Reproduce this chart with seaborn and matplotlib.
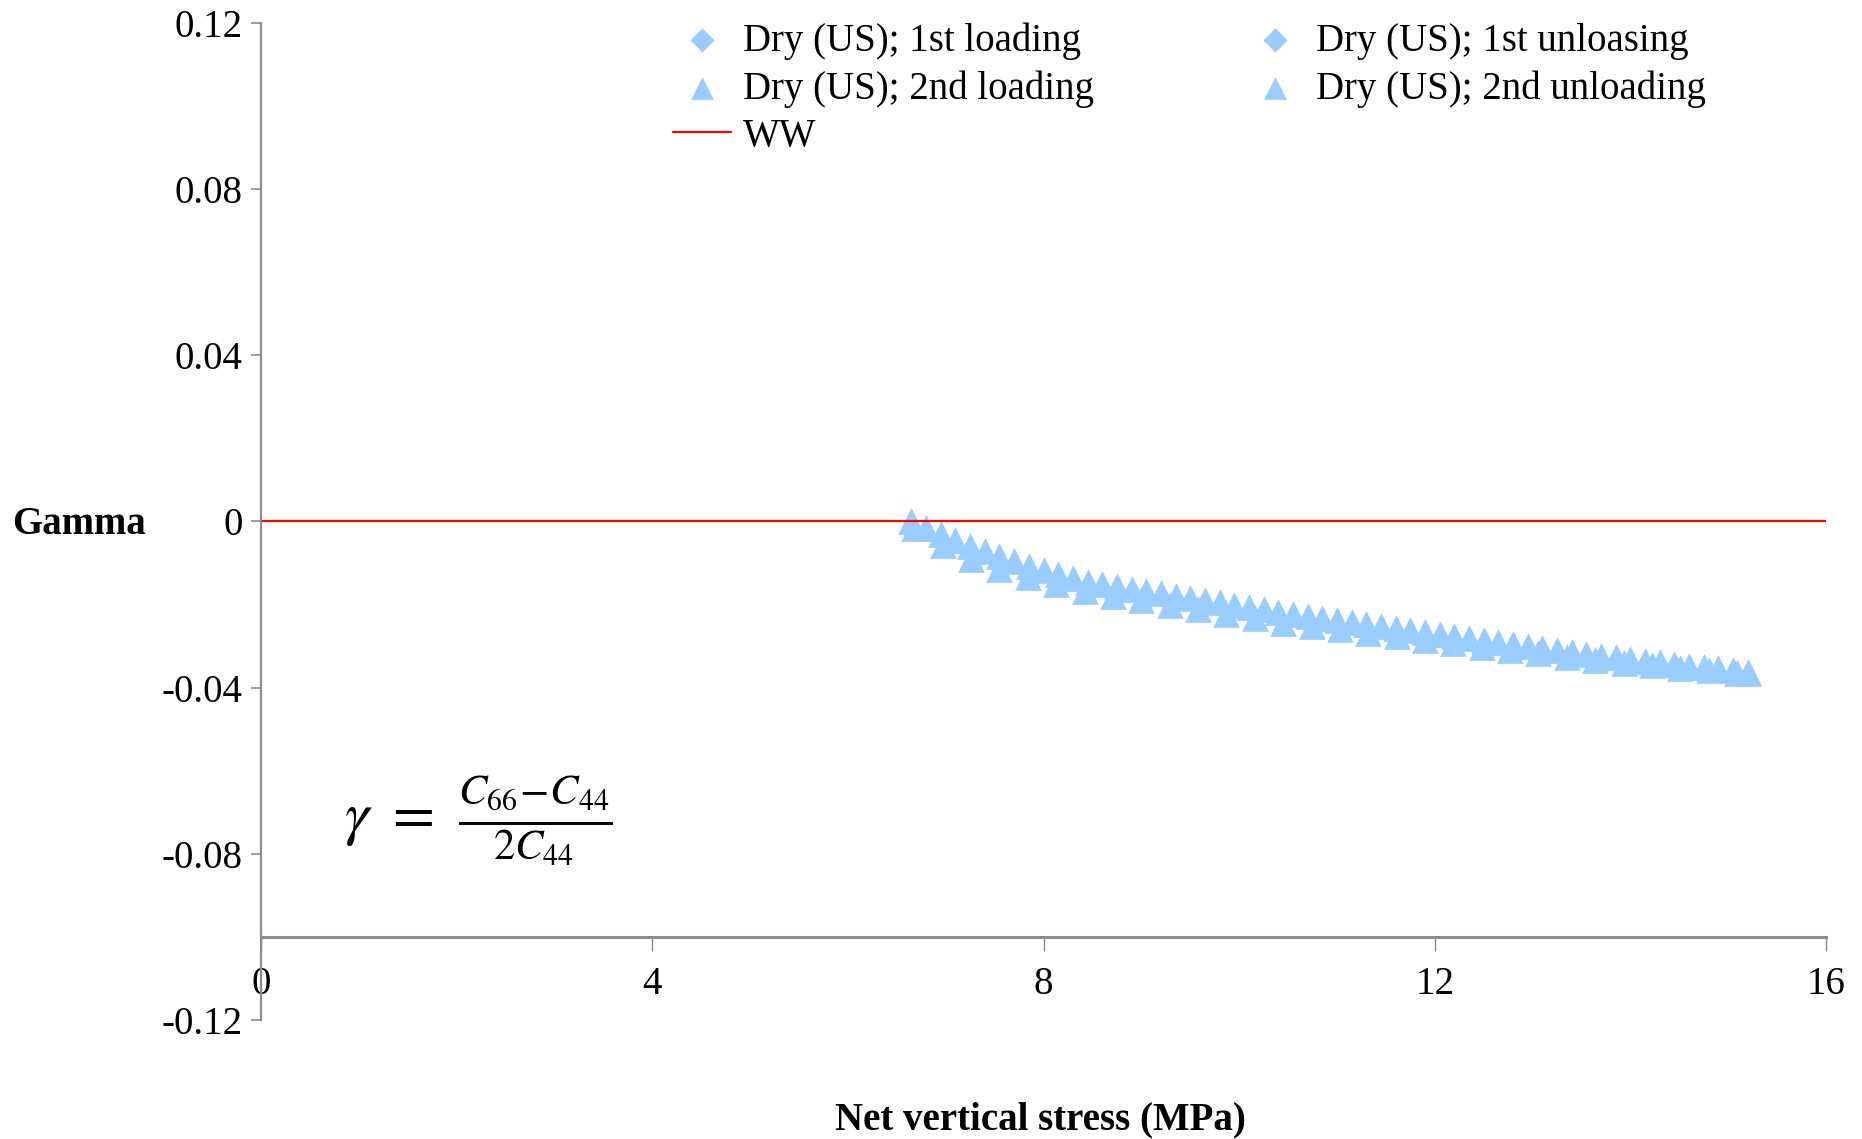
import matplotlib
matplotlib.use("Agg")
import matplotlib.pyplot as plt
import seaborn as sns

# Net vertical stress (MPa) and Gamma for each loading stage
stress_1st_loading = []
gamma_1st_loading = []
stress_1st_unloading = []
gamma_1st_unloading = []

stress_2nd_loading = [
    6.65, 6.80, 6.95, 7.10, 7.25, 7.40, 7.55, 7.70, 7.85, 8.00,
    8.15, 8.30, 8.45, 8.60, 8.75, 8.90, 9.05, 9.20, 9.35, 9.50,
    9.65, 9.80, 9.95, 10.10, 10.25, 10.40, 10.55, 10.70, 10.85, 11.00,
    11.15, 11.30, 11.45, 11.60, 11.75, 11.90, 12.05, 12.20, 12.35, 12.50,
    12.65, 12.80, 12.95, 13.10, 13.25, 13.40, 13.55, 13.70, 13.85, 14.00,
    14.15, 14.30, 14.45, 14.60, 14.75, 14.90, 15.05, 15.20,
]
gamma_2nd_loading = [
    0.0000, -0.0015, -0.0031, -0.0046, -0.0059, -0.0071, -0.0084, -0.0096, -0.0107, -0.0117,
    -0.0127, -0.0137, -0.0145, -0.0151, -0.0156, -0.0162, -0.0168, -0.0173, -0.0179, -0.0184,
    -0.0190, -0.0195, -0.0201, -0.0206, -0.0212, -0.0218, -0.0223, -0.0228, -0.0233, -0.0237,
    -0.0242, -0.0247, -0.0252, -0.0257, -0.0262, -0.0267, -0.0272, -0.0276, -0.0281, -0.0286,
    -0.0291, -0.0295, -0.0300, -0.0305, -0.0309, -0.0314, -0.0319, -0.0323, -0.0327, -0.0331,
    -0.0335, -0.0339, -0.0343, -0.0347, -0.0350, -0.0354, -0.0358, -0.0362,
]

stress_2nd_unloading = [
    6.68, 6.97, 7.26, 7.55, 7.84, 8.13, 8.42, 8.71, 9.00, 9.29,
    9.58, 9.87, 10.16, 10.45, 10.74, 11.03, 11.32, 11.61, 11.90, 12.19,
    12.48, 12.77, 13.06, 13.35, 13.64, 13.93, 14.22, 14.51, 14.80, 15.09,
    15.20,
]
gamma_2nd_unloading = [
    -0.0017, -0.0057, -0.0091, -0.0114, -0.0135, -0.0152, -0.0168, -0.0179, -0.0190, -0.0201,
    -0.0211, -0.0222, -0.0233, -0.0244, -0.0252, -0.0260, -0.0269, -0.0277, -0.0285, -0.0294,
    -0.0302, -0.0310, -0.0318, -0.0326, -0.0334, -0.0340, -0.0346, -0.0352, -0.0358, -0.0364,
    -0.0366,
]

ww_stress = [0, 16]
ww_gamma = [0, 0]

x_ticks = [0, 4, 8, 12, 16]
x_tick_labels = ["0", "4", "8", "12", "16"]
y_ticks = [-0.12, -0.08, -0.04, 0, 0.04, 0.08, 0.12]
y_tick_labels = ["-0.12", "-0.08", "-0.04", "0", "0.04", "0.08", "0.12"]

sns.set_theme(style="white")
plt.rcParams["font.family"] = ["Liberation Serif", "DejaVu Serif"]
plt.rcParams["mathtext.fontset"] = "stix"
plt.rcParams["text.color"] = "black"
plt.rcParams["axes.labelcolor"] = "black"
plt.rcParams["xtick.labelcolor"] = "black"
plt.rcParams["ytick.labelcolor"] = "black"

W, H = 1862, 1139
fig = plt.figure(figsize=(W / 100, H / 100), dpi=100)
ax = fig.add_axes([261 / W, 1 - 1020 / H, 1565 / W, 997.4 / H])

marker_color = "#99CCFF"
grey = "#8c8c8c"

ax.scatter(stress_1st_loading, gamma_1st_loading, marker="D", s=210,
           color=marker_color, linewidths=0, label="Dry (US); 1st loading")
ax.scatter(stress_1st_unloading, gamma_1st_unloading, marker="D", s=210,
           color=marker_color, linewidths=0, label="Dry (US); 1st unloasing")
sns.scatterplot(x=stress_2nd_loading, y=gamma_2nd_loading, marker="^", s=370,
                color=marker_color, linewidth=0, ax=ax, label="Dry (US); 2nd loading")
sns.scatterplot(x=stress_2nd_unloading, y=gamma_2nd_unloading, marker="^", s=370,
                color=marker_color, linewidth=0, ax=ax, label="Dry (US); 2nd unloading")
sns.lineplot(x=ww_stress, y=ww_gamma, color="red", linewidth=1.6, ax=ax, label="WW")

handles, labels = ax.get_legend_handles_labels()
ax.get_legend().remove()
lookup = dict(zip(labels, handles))
order = ["Dry (US); 1st loading", "Dry (US); 2nd loading", "WW",
         "Dry (US); 1st unloasing", "Dry (US); 2nd unloading"]
fig.legend([lookup[k] for k in order], order, ncol=2, loc="upper left",
           bbox_to_anchor=(673 / W, 1 - 22 / H), frameon=False, fontsize=28,
           handlelength=1.5, handletextpad=0.3, columnspacing=3.9,
           labelspacing=0.27, borderaxespad=0, borderpad=0, markerscale=0.85)

ax.set_xlim(0, 16)
ax.set_ylim(-0.12, 0.12)
ax.set_xticks(x_ticks)
ax.set_xticklabels(x_tick_labels)
ax.set_yticks(y_ticks)
ax.set_yticklabels(y_tick_labels)

for side in ("top", "right"):
    ax.spines[side].set_visible(False)
ax.spines["left"].set_color(grey)
ax.spines["left"].set_linewidth(1.6)
ax.spines["bottom"].set_position(("data", -0.1))
ax.spines["bottom"].set_color(grey)
ax.spines["bottom"].set_linewidth(2.2)

ax.tick_params(axis="y", direction="out", length=7, width=1.2, color=grey,
               labelsize=28, pad=6, left=True)
ax.tick_params(axis="x", direction="out", length=10, width=1.0, color=grey,
               labelsize=28, pad=11, bottom=True)

ax.set_xlabel("Net vertical stress (MPa)", fontsize=28, fontweight="bold", va="center")
ax.xaxis.set_label_coords(0.498, -0.1)
ax.set_ylabel("Gamma", fontsize=28, fontweight="bold", rotation=0, va="center")
ax.yaxis.set_label_coords(-0.116, 0.497)

ax.text(0.139, 0.199, r"$\gamma\ =\ \frac{C_{66}\!-\!C_{44}}{2C_{44}}$",
        transform=ax.transAxes, fontsize=44, ha="center", va="center")

fig.savefig("out.png", dpi=100, facecolor="white")
